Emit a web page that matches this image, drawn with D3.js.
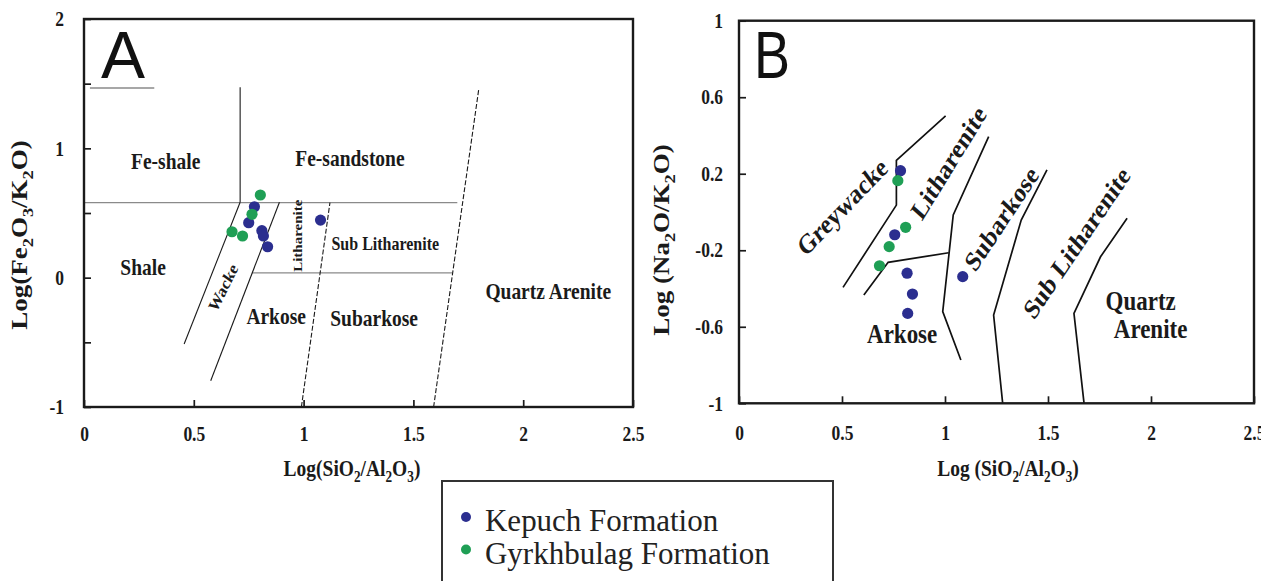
<!DOCTYPE html>
<html>
<head>
<meta charset="utf-8">
<script src="https://cdn.jsdelivr.net/npm/d3@7"></script>
<style>
body { margin: 0; background: #fff; }
</style>
</head>
<body>
<script>
const W = 1261;
const H = 581;
const serif = "'Liberation Serif', 'Times New Roman', serif";
const sans = "'Liberation Sans', Arial, sans-serif";
const stretch = 1.2; // the figure is a little taller than its text

// series
const seriesNames = ["Kepuch Formation", "Gyrkhbulag Formation"];
const seriesColors = ["#2b2e8f", "#1f9f55"];

// panel A: Log(SiO2/Al2O3) vs Log(Fe2O3/K2O)
const kepuchA = [[0.776, 0.548], [0.750, 0.425], [0.810, 0.363], [0.817, 0.322], [0.836, 0.239], [1.077, 0.445]];
const gyrkhA = [[0.803, 0.639], [0.765, 0.490], [0.674, 0.355], [0.722, 0.322]];

// panel B: Log(SiO2/Al2O3) vs Log(Na2O/K2O)
const kepuchB = [[0.784, 0.216], [0.756, -0.119], [0.816, -0.320], [0.842, -0.429], [0.819, -0.530], [1.086, -0.338]];
const gyrkhB = [[0.771, 0.164], [0.809, -0.080], [0.729, -0.181], [0.682, -0.281]];

// field boundaries
const solidA = [
	[[0.456, -0.513], [0.711, 0.583]],
	[[0.577, -0.797], [0.890, 0.583]],
	[[0.711, 0.583], [0.711, 1.472]],
];
const dashedA = [
	[[0.990, -1], [1.120, 0.580]],
	[[1.592, -1], [1.797, 1.450]],
];
const greyA = [
	[[0, 0.580], [1.700, 0.580]],
	[[0.765, 0.037], [1.676, 0.037]],
	[[0.027, 1.466], [0.320, 1.466]],
];
const linesB = [
	[[1.003, 0.502], [0.764, 0.270], [0.764, 0.036], [0.505, -0.394]],
	[[0.606, -0.434], [0.724, -0.263], [1.018, -0.213]],
	[[1.212, 0.394], [1.040, -0.015], [0.989, -0.521], [1.077, -0.774]],
	[[1.495, 0.220], [1.370, -0.042], [1.236, -0.539], [1.280, -1]],
	[[1.884, -0.033], [1.755, -0.234], [1.626, -0.530], [1.675, -1]],
];

// field names (data coordinates, text angle)
const fieldsA = [
	["Fe-shale", 0.372, 0.902, 0],
	["Fe-sandstone", 1.211, 0.927, 0],
	["Shale", 0.269, 0.085, 0],
	["Wacke", 0.633, -0.076, -59.5],
	["Litharenite", 0.973, 0.324, -90],
	["Sub Litharenite", 1.372, 0.266, 0],
	["Arkose", 0.875, -0.297, 0],
	["Subarkose", 1.321, -0.310, 0],
	["Quartz Arenite", 2.114, -0.103, 0],
];
const fieldsB = [
	["Greywacke", 0.500, 0.028, -40.9],
	["Litharenite", 1.016, 0.259, -53.6],
	["Subarkose", 1.273, -0.033, -51.5],
	["Sub Litharenite", 1.638, -0.159, -51],
	["Arkose", 0.792, -0.634, 0],
	["Quartz", 1.950, -0.460, 0],
	["Arenite", 1.998, -0.608, 0],
];

// ticks
const xTicks = [0, 0.5, 1, 1.5, 2, 2.5];
const yTicksA = [-1, -0.5, 0, 0.5, 1, 1.5, 2];
const yTicksB = [-1, -0.6, -0.2, 0.2, 0.6, 1];

const svg = d3.select("body").append("svg").attr("width", W).attr("height", H);

// text with optional subscripts; parts = [[string, isSub], ...]
function label(g, parts, x, y, o) {
	const k = o.k ?? stretch;
	const t = g.append("text")
		.attr("transform", `translate(${x},${y}) scale(1,${k}) rotate(${o.angle || 0})`)
		.attr("text-anchor", o.anchor || "middle")
		.attr("dy", o.dy ?? "0.35em")
		.attr("fill", o.color || "#1a1a1a")
		.style("font-family", o.family || serif)
		.style("font-weight", o.weight || "bold")
		.style("font-size", o.size + "px");
	if (typeof parts === "string") parts = [[parts, false]];
	const shift = o.size * 0.25;
	let down = false;
	parts.forEach(([s, sub]) => {
		const ts = t.append("tspan").text(s);
		if (sub && !down) { ts.attr("dy", shift).style("font-size", o.size * 0.68 + "px"); down = true; }
		else if (sub) { ts.style("font-size", o.size * 0.68 + "px"); }
		else if (down) { ts.attr("dy", -shift); down = false; }
	});
	return t;
}

function panel(cfg) {
	const x = d3.scaleLinear().domain([0, 2.5]).range([cfg.left, cfg.right]);
	const y = d3.scaleLinear().domain(cfg.yDomain).range([cfg.bottom, cfg.top]);
	const g = svg.append("g");

	const xAxis = d3.axisBottom(x).tickValues(xTicks).tickSize(-7).tickSizeOuter(0)
		.tickPadding(cfg.xPad).tickFormat((d) => String(d));
	const yAxis = d3.axisLeft(y).tickValues(cfg.yTicks).tickSize(-7).tickSizeOuter(0)
		.tickPadding(cfg.yPad).tickFormat(cfg.yFormat);

	[g.append("g").attr("transform", `translate(0,${cfg.bottom})`).call(xAxis),
	 g.append("g").attr("transform", `translate(${cfg.left},0)`).call(yAxis)].forEach((a) => {
		a.select(".domain").remove();
		a.selectAll("line").attr("stroke", "#1a1a1a").attr("stroke-width", 1.7);
		a.selectAll("text")
			.attr("transform", `scale(1,${stretch})`)
			.attr("fill", "#1a1a1a")
			.style("font-family", serif)
			.style("font-weight", "bold")
			.style("font-size", "17.5px");
	});

	const line = d3.line().x((d) => x(d[0])).y((d) => y(d[1]));
	return { x, y, g, line };
}

// ---------- panel A ----------
const A = panel({
	left: 84, right: 633, top: 19, bottom: 407,
	yDomain: [-1, 2], yTicks: yTicksA, xPad: 16, yPad: 20,
	yFormat: (d) => (Number.isInteger(d) ? String(d) : ""),
});
A.g.selectAll(".grey").data(greyA).enter().append("path")
	.attr("d", A.line).attr("fill", "none").attr("stroke", "#8a8a8a").attr("stroke-width", 1.4);
A.g.selectAll(".solid").data(solidA).enter().append("path")
	.attr("d", A.line).attr("fill", "none").attr("stroke", "#1a1a1a").attr("stroke-width", 1.1);
A.g.selectAll(".dashed").data(dashedA).enter().append("path")
	.attr("d", A.line).attr("fill", "none").attr("stroke", "#1a1a1a").attr("stroke-width", 1.1)
	.attr("stroke-dasharray", "5,2");
A.g.append("rect").attr("x", 84).attr("y", 19).attr("width", 633 - 84).attr("height", 407 - 19)
	.attr("fill", "none").attr("stroke", "#1a1a1a").attr("stroke-width", 2.4);

fieldsA.forEach(([t, fx, fy, ang]) => {
	let size = 19.5;
	if (t === "Sub Litharenite") size = 16;
	if (t === "Wacke") size = 15;
	if (t === "Litharenite") size = 12.5;
	label(A.g, t, A.x(fx), A.y(fy), { size, angle: ang });
});

[kepuchA, gyrkhA].forEach((pts, i) => {
	A.g.append("g").selectAll("circle").data(pts).enter().append("circle")
		.attr("cx", (d) => A.x(d[0])).attr("cy", (d) => A.y(d[1])).attr("r", 5.6)
		.attr("fill", seriesColors[i]);
});

label(svg, "A", 101, 78, { size: 66, k: 1, dy: 0, anchor: "start", family: sans, weight: "normal", color: "#111" });
label(svg, [["Log(SiO", false], ["2", true], ["/Al", false], ["2", true], ["O", false], ["3", true], [")", false]],
	352, 476, { size: 19.5, dy: 0 });
label(svg, [["Log(Fe", false], ["2", true], ["O", false], ["3", true], ["/K", false], ["2", true], ["O)", false]],
	27, 235, { size: 22.5, dy: 0, angle: -90 });

// ---------- panel B ----------
const B = panel({
	left: 739, right: 1254, top: 20.7, bottom: 403.3,
	yDomain: [-1, 1], yTicks: yTicksB, xPad: 18, yPad: 16,
	yFormat: (d) => String(d),
});
B.g.selectAll(".bound").data(linesB).enter().append("path")
	.attr("d", B.line).attr("fill", "none").attr("stroke", "#111").attr("stroke-width", 1.7);
B.g.append("rect").attr("x", 739).attr("y", 20.7).attr("width", 1254 - 739).attr("height", 403.3 - 20.7)
	.attr("fill", "none").attr("stroke", "#1a1a1a").attr("stroke-width", 2.4);

fieldsB.forEach(([t, fx, fy, ang]) => {
	label(B.g, t, B.x(fx), B.y(fy), { size: 23, angle: ang });
});

[kepuchB, gyrkhB].forEach((pts, i) => {
	B.g.append("g").selectAll("circle").data(pts).enter().append("circle")
		.attr("cx", (d) => B.x(d[0])).attr("cy", (d) => B.y(d[1])).attr("r", 5.6)
		.attr("fill", seriesColors[i]);
});

label(svg, "B", 754, 78, { size: 54, k: 1.24, dy: 0, anchor: "start", family: sans, weight: "normal", color: "#111" });
label(svg, [["Log (SiO", false], ["2", true], ["/Al", false], ["2", true], ["O", false], ["3", true], [")", false]],
	1008, 476, { size: 19.5, dy: 0 });
label(svg, [["Log (Na", false], ["2", true], ["O/K", false], ["2", true], ["O)", false]],
	669, 240, { size: 22.5, dy: 0, angle: -90 });

// ---------- legend ----------
const leg = svg.append("g");
leg.append("rect").attr("x", 442).attr("y", 481).attr("width", 391).attr("height", 130)
	.attr("fill", "#fff").attr("stroke", "#333").attr("stroke-width", 2);
seriesNames.forEach((name, i) => {
	leg.append("circle").attr("cx", 466).attr("cy", 517 + i * 32.5).attr("r", 5).attr("fill", seriesColors[i]);
	label(leg, name, 485, 530.7 + i * 33.3, { size: 31, k: 1.05, dy: 0, anchor: "start", weight: "normal", color: "#222" });
});
</script>
</body>
</html>
